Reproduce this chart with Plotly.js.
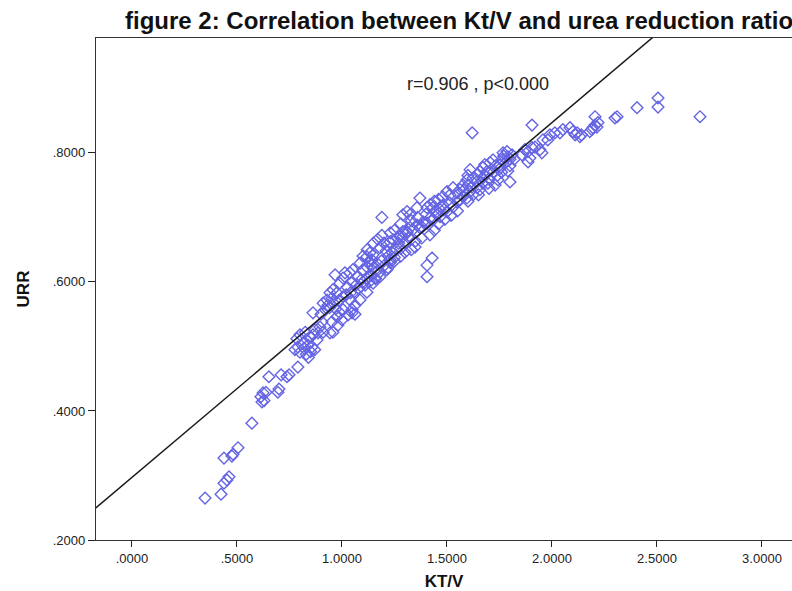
<!DOCTYPE html>
<html>
<head>
<meta charset="utf-8">
<script src="https://cdn.plot.ly/plotly-3.0.1.min.js"></script>
<style>html,body{margin:0;padding:0;background:#fff;}#chart{width:792px;height:591px;}</style>
</head>
<body>
<div id="chart"></div>
<script>
// Kt/V values (x) and URR values (y)
const ktv = [
0.348,0.424,0.438,0.452,0.462,0.438,0.476,0.481,0.505,0.571,0.614,0.624,0.638,0.619,0.629,0.652,0.700,0.695,0.710,0.738,0.748,0.790,
0.776,0.790,0.814,0.800,0.833,0.848,0.862,0.838,0.857,0.881,0.862,0.871,0.895,0.905,0.886,0.910,0.910,0.929,0.952,0.933,0.943,0.957,0.952,0.976,0.990,1.005,0.981,1.000,0.967,0.990,1.005,1.014,1.038,1.024,1.048,1.052,1.086,1.119,1.133,1.071,1.100,1.048,1.029,1.062,1.086,1.119,1.148,1.181,1.214,1.229,0.943,0.957,0.976,1.005,1.038,0.830,0.850,0.870,0.840,0.785,0.800,0.820,0.825,0.900,0.920,0.940,0.960,0.985,0.970,1.048,1.062,
1.06,1.08,1.10,1.12,1.14,1.16,1.02,1.04,1.07,1.09,1.11,1.13,1.15,1.17,1.19,1.20,1.18,1.16,1.22,1.24,1.26,1.25,1.23,1.21,1.27,1.28,1.30,1.32,1.29,1.31,
1.150,1.170,1.190,1.200,1.120,1.100,1.130,
1.190,1.371,1.290,1.310,1.324,1.500,1.514,1.529,1.548,1.562,1.576,1.595,1.419,1.381,1.395,1.348,1.219,1.157,1.143,1.452,1.467,1.433,1.481,1.405,1.357,
1.229,1.262,1.290,1.324,1.357,1.386,1.419,1.452,1.485,1.514,1.548,1.576,1.610,1.643,1.671,1.181,1.148,1.214,1.243,1.276,1.310,1.338,1.371,1.405,1.433,1.467,1.500,1.529,1.562,1.595,1.624,1.657,
1.330,1.405,1.405,1.429,1.119,1.143,1.250,1.280,1.300,1.350,1.380,1.440,1.460,1.490,1.520,1.550,
1.330,1.360,1.400,1.420,1.440,1.460,1.480,1.280,1.250,1.230,
1.905,1.620,1.990,2.014,2.038,2.052,2.086,2.100,2.110,2.120,2.133,2.180,2.195,2.205,2.219,2.214,1.957,1.980,1.905,1.919,1.943,1.952,1.886,1.895,1.800,1.767,1.786,1.790,1.762,1.752,1.719,1.705,1.671,1.657,1.643,1.624,1.619,1.729,1.695,1.743,1.871,1.886,1.857,
1.610,1.690,1.671,
1.600,1.650,1.700,1.740,1.750,1.780,1.800,1.770,1.810,1.760,1.720,1.680,1.640,1.600,1.580,1.700,1.730,1.800,1.820,1.790,1.680,1.600,
2.205,2.140,2.300,2.310,2.405,2.505,2.505,2.705,2.190
];
const urr = [
0.265,0.271,0.288,0.293,0.298,0.327,0.330,0.333,0.343,0.381,0.422,0.428,0.429,0.414,0.416,0.453,0.434,0.429,0.456,0.453,0.456,0.468,
0.495,0.499,0.505,0.491,0.510,0.515,0.518,0.502,0.499,0.510,0.552,0.526,0.530,0.538,0.521,0.522,0.567,0.572,0.575,0.564,0.521,0.522,0.538,0.546,0.552,0.557,0.533,0.541,0.611,0.598,0.606,0.614,0.614,0.592,0.600,0.619,0.629,0.639,0.645,0.608,0.619,0.557,0.549,0.564,0.572,0.584,0.598,0.608,0.619,0.634,0.583,0.588,0.583,0.577,0.572,0.488,0.492,0.495,0.483,0.512,0.518,0.497,0.522,0.550,0.557,0.560,0.567,0.571,0.558,0.552,0.550,
0.585,0.590,0.600,0.605,0.610,0.615,0.580,0.583,0.596,0.603,0.595,0.600,0.622,0.628,0.633,0.625,0.615,0.605,0.640,0.645,0.650,0.638,0.630,0.648,0.660,0.652,0.660,0.668,0.670,0.678,
0.660,0.666,0.672,0.660,0.650,0.640,0.632,
0.700,0.730,0.704,0.709,0.704,0.740,0.735,0.746,0.738,0.743,0.750,0.758,0.673,0.685,0.691,0.654,0.622,0.606,0.626,0.704,0.712,0.715,0.719,0.715,0.715,
0.662,0.668,0.678,0.684,0.688,0.693,0.699,0.709,0.712,0.722,0.724,0.732,0.740,0.746,0.753,0.653,0.642,0.657,0.665,0.670,0.676,0.681,0.684,0.691,0.696,0.701,0.709,0.716,0.727,0.730,0.735,0.743,
0.650,0.608,0.626,0.637,0.623,0.634,0.632,0.640,0.646,0.663,0.668,0.680,0.690,0.697,0.703,0.710,
0.695,0.700,0.705,0.720,0.725,0.728,0.732,0.690,0.680,0.676,
0.843,0.831,0.828,0.831,0.831,0.836,0.839,0.833,0.828,0.831,0.825,0.833,0.839,0.843,0.847,0.840,0.820,0.820,0.808,0.809,0.805,0.800,0.786,0.792,0.755,0.800,0.802,0.794,0.789,0.781,0.789,0.785,0.777,0.771,0.766,0.761,0.747,0.750,0.753,0.758,0.805,0.802,0.797,
0.774,0.771,0.761,
0.725,0.735,0.745,0.765,0.775,0.785,0.790,0.795,0.797,0.770,0.770,0.765,0.755,0.750,0.742,0.760,0.780,0.780,0.790,0.772,0.782,0.765,
0.856,0.828,0.854,0.856,0.870,0.885,0.871,0.856,0.836
];

// fitted line coefficients
const fitIntercept = 0.297;
const fitSlope = 0.275;
const fitX = [-0.3, 3.3];
const fitY = fitX.map(v => fitIntercept + fitSlope * v);

const xTickVals = [0, 0.5, 1.0, 1.5, 2.0, 2.5, 3.0];
const xTickText = ['.0000', '.5000', '1.0000', '1.5000', '2.0000', '2.5000', '3.0000'];
const yTickVals = [0.2, 0.4, 0.6, 0.8];
const yTickText = ['.2000', '.4000', '.6000', '.8000'];

const font = 'Liberation Sans, Arial, sans-serif';

const traces = [
  {
    x: ktv, y: urr, type: 'scatter', mode: 'markers',
    marker: {symbol: 'diamond-open', size: 9, color: '#6464e4', line: {width: 1.4, color: '#6464e4'}},
    hoverinfo: 'skip', showlegend: false
  },
  {
    x: fitX, y: fitY, type: 'scatter', mode: 'lines',
    line: {color: '#1a1a1a', width: 1.5},
    hoverinfo: 'skip', showlegend: false
  }
];

const layout = {
  width: 792, height: 591,
  margin: {l: 96, r: 0, t: 38, b: 51},
  paper_bgcolor: '#ffffff', plot_bgcolor: '#ffffff',
  font: {family: font, color: '#222'},
  title: {
    text: '<b>figure 2: Correlation between Kt/V and urea reduction ratio</b>',
    font: {family: font, size: 24, color: '#111'},
    xref: 'container', yref: 'container',
    x: 125 / 792, xanchor: 'left', y: 1 - 21 / 591, yanchor: 'middle'
  },
  xaxis: {
    range: [-0.1714, 3.143],
    tickvals: xTickVals, ticktext: xTickText,
    ticks: 'outside', ticklen: 6, tickwidth: 1, tickcolor: '#222',
    showline: true, linecolor: '#333', linewidth: 1.2, mirror: true,
    showgrid: false, zeroline: false,
    tickfont: {family: font, size: 13, color: '#222'},
    title: {text: '<b>KT/V</b>', font: {family: font, size: 17, color: '#111'}, standoff: 12}
  },
  yaxis: {
    range: [0.2, 0.978],
    tickvals: yTickVals, ticktext: yTickText,
    ticks: 'outside', ticklen: 7, tickwidth: 1, tickcolor: '#222',
    showline: true, linecolor: '#333', linewidth: 1.2, mirror: false,
    showgrid: false, zeroline: false,
    tickfont: {family: font, size: 13, color: '#222'},
    title: {text: '<b>URR</b>', font: {family: font, size: 17, color: '#111'}, standoff: 18}
  },
  annotations: [{
    xref: 'x', yref: 'y', x: 1.65, y: 0.907,
    text: 'r=0.906 , p<0.000', showarrow: false,
    font: {family: font, size: 18, color: '#222'},
    xanchor: 'center', yanchor: 'middle'
  }]
};

Plotly.newPlot('chart', traces, layout, {staticPlot: true, displayModeBar: false});
</script>
</body>
</html>
